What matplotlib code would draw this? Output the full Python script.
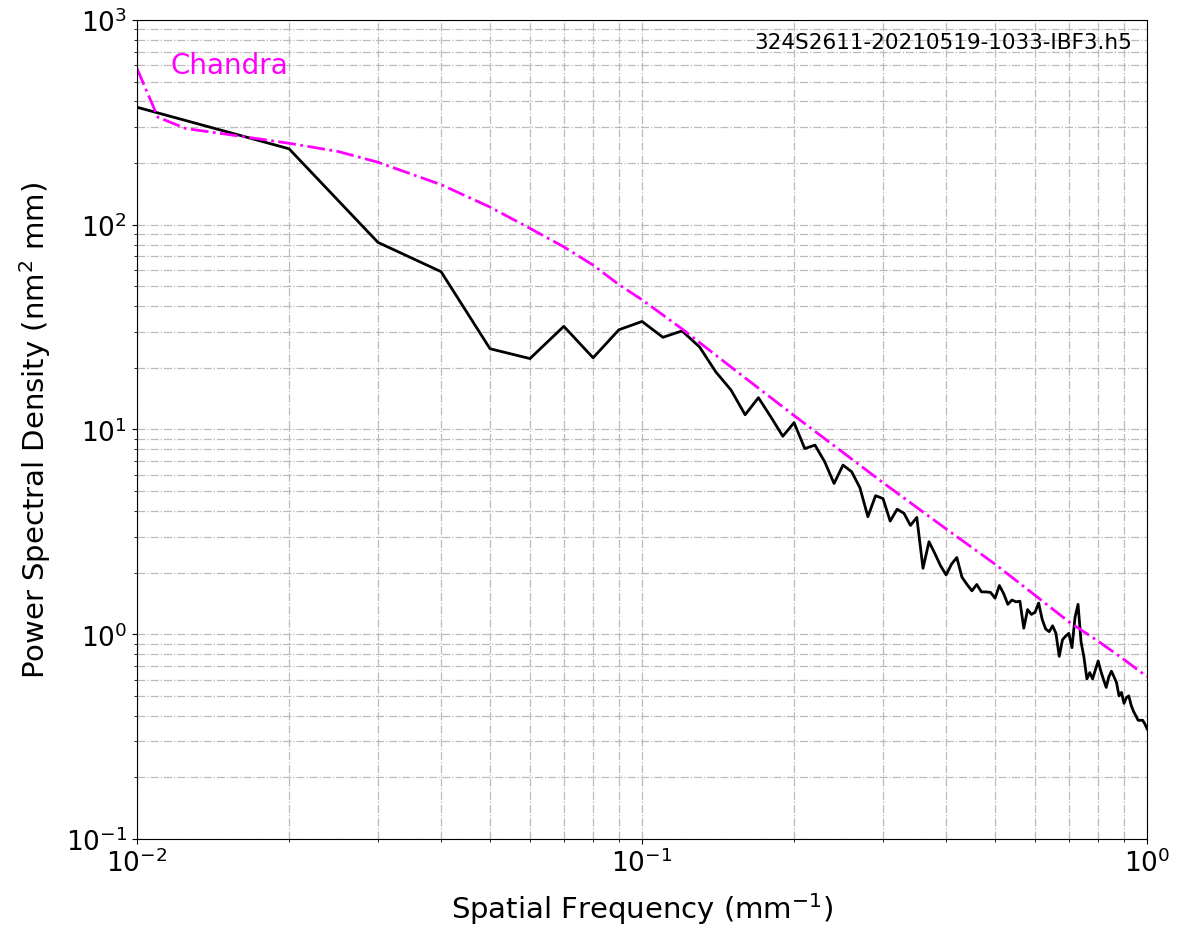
import numpy as np
import matplotlib
matplotlib.use('Agg')
import matplotlib.pyplot as plt

# PSD measured (black), frequencies 0.01 .. 1.00 mm^-1
freq = np.round(np.arange(1, 101) * 0.01, 2)
psd = [375, 235, 82, 59, 24.8, 22.2, 31.9, 22.4, 30.7, 33.7,
       28.2, 30.3, 25.3, 19.1, 15.6, 11.8, 14.3, 11.5, 9.27, 10.8,
       8.07, 8.39, 6.95, 5.45, 6.7, 6.22, 5.2, 3.75, 4.75, 4.6,
       3.57, 4.08, 3.9, 3.4, 3.72, 2.10, 2.83, 2.48, 2.16, 1.95,
       2.2, 2.37, 1.9, 1.75, 1.63, 1.75, 1.61, 1.61, 1.60, 1.50,
       1.73, 1.58, 1.40, 1.47, 1.44, 1.45, 1.07, 1.32, 1.25, 1.28,
       1.42, 1.18, 1.06, 1.03, 1.10, 1.01, 0.78, 0.94, 0.98, 1.01,
       0.86, 1.21, 1.40, 0.92, 0.77, 0.605, 0.65, 0.605, 0.67, 0.74,
       0.66, 0.60, 0.55, 0.62, 0.66, 0.62, 0.58, 0.50, 0.52, 0.46,
       0.49, 0.50, 0.45, 0.42, 0.40, 0.38, 0.38, 0.38, 0.365, 0.345]

# Chandra reference curve
chandra_f = [0.01, 0.011, 0.0125, 0.015, 0.02, 0.025, 0.03, 0.04, 0.05, 0.06,
             0.07, 0.08, 0.09, 0.1, 0.12, 0.15, 0.2, 0.3, 0.4, 0.5,
             0.6, 0.7, 0.8, 0.9, 1.0]
chandra_psd = [580, 335, 295, 277, 250, 228, 202, 157, 122, 96,
               78, 63.5, 51, 43, 31, 20.2, 11.7, 5.5, 3.27, 2.2,
               1.55, 1.15, 0.925, 0.753, 0.62]

fname = '324S2611-20210519-1033-IBF3.h5'

fig = plt.figure(figsize=(11.85, 9.29), dpi=100)
ax = fig.add_axes([0.1156, 0.0958, 0.8524, 0.8816])

ax.loglog(freq, psd, color='black', lw=2)
ax.loglog(chandra_f, chandra_psd, color='magenta', ls='-.', lw=2)

ax.set_xlim(0.01, 1)
ax.set_ylim(0.1, 1000)
ax.grid(True, which='both', ls='-.', color='#bbbbbb', lw=0.9)

ax.set_xlabel('Spatial Frequency (mm$^{-1}$)', fontsize=21, labelpad=9)
ax.set_ylabel('Power Spectral Density (nm$^2$ mm)', fontsize=21, labelpad=9)
ax.tick_params(labelsize=19)

ax.text(0.985, 0.985, fname, transform=ax.transAxes, ha='right', va='top', fontsize=15.5)
ax.text(0.033, 0.945, 'Chandra', transform=ax.transAxes, ha='left', va='center',
        fontsize=20, color='magenta')

fig.savefig('out.png', dpi=100)
